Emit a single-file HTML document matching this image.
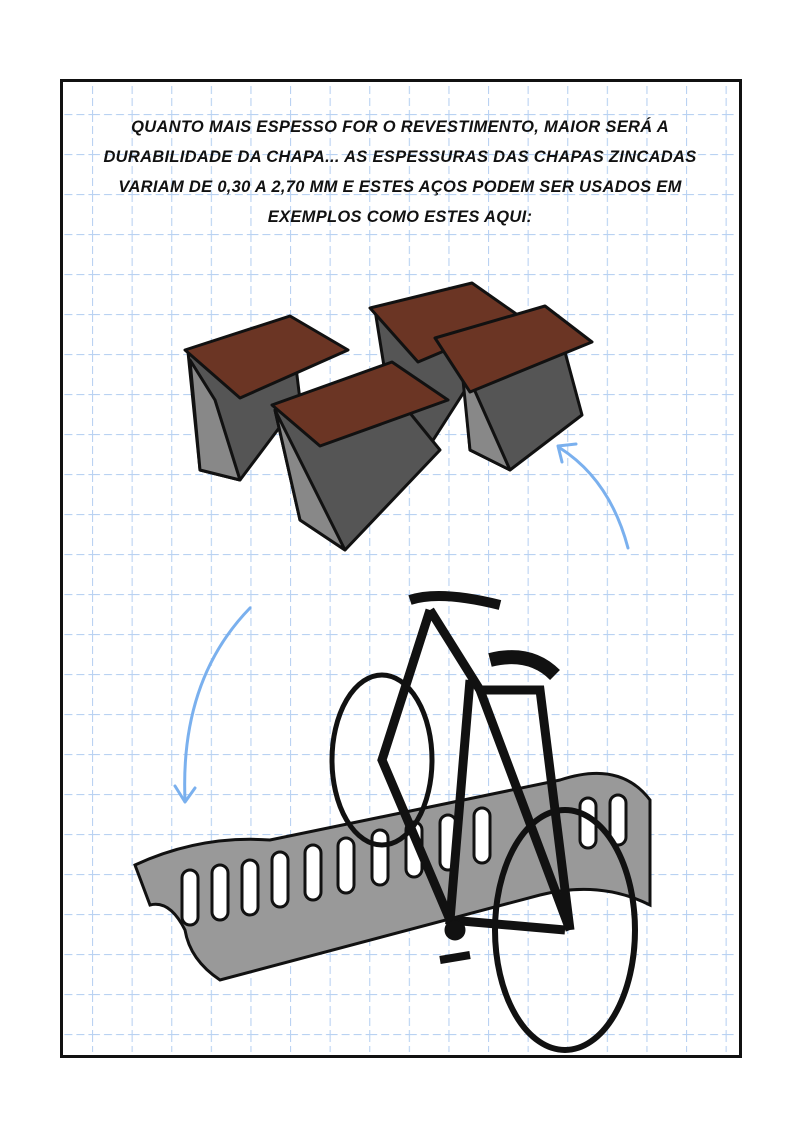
<!DOCTYPE html>
<html><head><style>
body{margin:0;width:800px;height:1135px;background:#fff;overflow:hidden;position:relative}
.frame{position:absolute;left:60px;top:79px;width:676px;height:973px;border:3px solid #111}
.txt{position:absolute;left:60px;width:680px;top:112px;text-align:center;font-family:"Liberation Sans",sans-serif;font-weight:bold;font-style:italic;font-size:16.5px;line-height:30px;color:#111;letter-spacing:0.3px}
svg{position:absolute;left:0;top:0}
</style></head><body>
<svg width="800" height="1135" viewBox="0 0 800 1135">
<defs>
<pattern id="g" x="92" y="114" width="39.6" height="40" patternUnits="userSpaceOnUse">
<line x1="0" y1="0" x2="0" y2="40" stroke="#b9d2f2" stroke-width="2.2" stroke-dasharray="8,4"/>
<line x1="0" y1="0" x2="39.6" y2="0" stroke="#b9d2f2" stroke-width="2.2" stroke-dasharray="8,4"/>
</pattern>
</defs>
<rect x="63" y="82" width="673" height="970" fill="url(#g)"/>
</svg>
<div class="frame"></div>
<div class="txt">QUANTO MAIS ESPESSO FOR O REVESTIMENTO, MAIOR SERÁ A<br>DURABILIDADE DA CHAPA... AS ESPESSURAS DAS CHAPAS ZINCADAS<br>VARIAM DE 0,30 A 2,70 MM E ESTES AÇOS PODEM SER USADOS EM<br>EXEMPLOS COMO ESTES AQUI:</div>
<svg width="800" height="1135" viewBox="0 0 800 1135">
<g stroke="#111" stroke-width="3" stroke-linejoin="round">
<polygon points="188,352 290,318 300,400 240,480 200,470" fill="#555"/>
<polygon points="215,400 240,480 200,470 190,360" fill="#888"/>
<polygon points="185,350 290,316 348,350 240,398" fill="#6b3524"/>
<polygon points="375,310 470,285 478,370 430,445 395,435" fill="#555"/>
<polygon points="370,308 472,283 522,318 418,362" fill="#6b3524"/>
<polygon points="460,340 555,315 582,415 510,470 470,450" fill="#555"/>
<polygon points="470,380 510,470 470,450 460,350" fill="#888"/>
<polygon points="435,338 545,306 592,342 470,392" fill="#6b3524"/>
<polygon points="275,410 375,370 440,450 345,550 300,520" fill="#555"/>
<polygon points="275,410 345,550 300,520" fill="#888"/>
<polygon points="272,405 392,362 448,400 320,446" fill="#6b3524"/>
</g>
<g fill="none" stroke="#7ab0ee" stroke-width="3" stroke-linecap="round">
<path d="M628,548 Q610,480 560,448"/><path d="M558,446 l18,-2 M558,446 l4,16"/>
<path d="M250,608 Q180,680 185,800"/><path d="M185,802 l-10,-16 M185,802 l10,-14"/>
</g>
<g stroke="#111" stroke-width="3">
<path d="M135,865 Q200,835 270,840 L560,780 Q620,760 650,800 L650,905 Q600,880 540,895 L220,980 Q190,960 185,930 Q170,900 150,905 Z" fill="#999"/>
<g fill="#fff">
<rect x="182" y="870" width="16" height="55" rx="8"/><rect x="212" y="865" width="16" height="55" rx="8"/>
<rect x="242" y="860" width="16" height="55" rx="8"/><rect x="272" y="852" width="16" height="55" rx="8"/>
<rect x="305" y="845" width="16" height="55" rx="8"/><rect x="338" y="838" width="16" height="55" rx="8"/>
<rect x="372" y="830" width="16" height="55" rx="8"/><rect x="406" y="822" width="16" height="55" rx="8"/>
<rect x="440" y="815" width="16" height="55" rx="8"/><rect x="474" y="808" width="16" height="55" rx="8"/>
<rect x="580" y="798" width="16" height="50" rx="8"/><rect x="610" y="795" width="16" height="50" rx="8"/>
</g>
</g>
<g fill="none" stroke="#111">
<ellipse cx="382" cy="760" rx="50" ry="85" stroke-width="5"/>
<ellipse cx="565" cy="930" rx="70" ry="120" stroke-width="6"/>
<path d="M430,610 L480,690 L570,930 M480,690 L540,690 L570,930 M470,680 L450,920 L565,930 M450,920 L382,760 L430,610" stroke-width="9"/>
<path d="M410,600 Q440,590 500,605" stroke-width="10"/>
<path d="M490,660 Q530,650 555,675" stroke-width="14"/>
<circle cx="455" cy="930" r="10" fill="#111"/>
<path d="M440,960 L470,955" stroke-width="8"/>
</g>
</svg>
</body></html>
